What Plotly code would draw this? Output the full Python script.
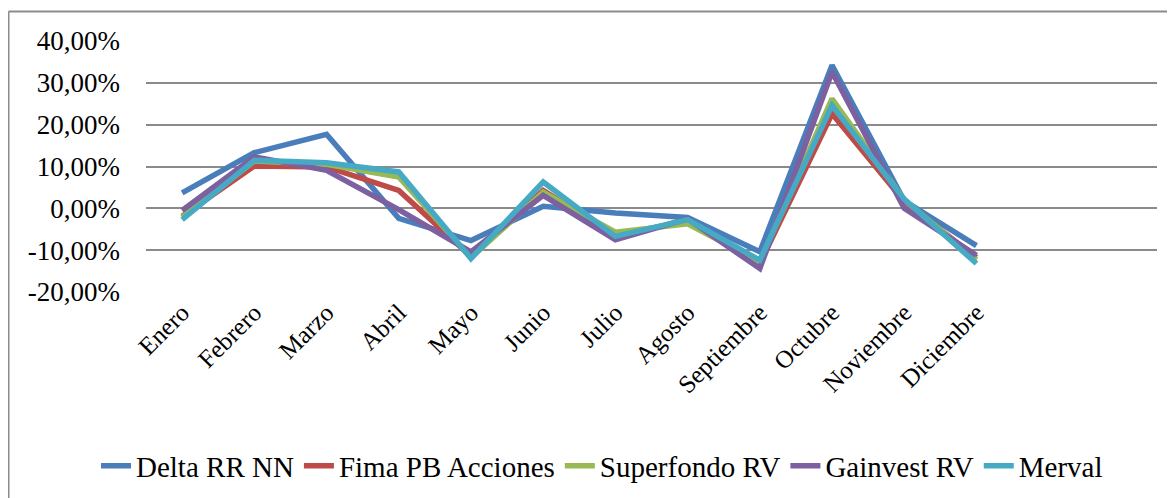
import plotly.graph_objects as go

months = ["Enero", "Febrero", "Marzo", "Abril", "Mayo", "Junio", "Julio",
          "Agosto", "Septiembre", "Octubre", "Noviembre", "Diciembre"]

delta_rr_nn = [3.7, 13.3, 17.7, -2.4, -7.7, 0.5, -1.1, -2.2, -10.4, 34.2, 1.8, -8.9]
fima_pb_acciones = [-1.9, 10.1, 9.9, 4.3, -11.5, 4.3, -6.5, -3.0, -13.2, 22.6, 1.6, -11.8]
superfondo_rv = [-2.1, 11.3, 10.5, 7.5, -11.8, 3.9, -5.7, -3.7, -12.8, 26.2, 2.0, -12.3]
gainvest_rv = [-0.5, 12.3, 9.1, -0.3, -10.4, 3.1, -7.5, -2.5, -14.4, 32.6, 0.0, -11.2]
merval = [-2.7, 11.5, 10.9, 8.7, -12.0, 6.3, -6.7, -2.7, -12.4, 24.6, 2.2, -13.2]

y_ticks = [-20, -10, 0, 10, 20, 30, 40]
y_tick_labels = [f"{v:.2f}%".replace(".", ",") for v in y_ticks]

series_names = ["Delta RR NN", "Fima PB Acciones", "Superfondo RV", "Gainvest RV", "Merval"]
series_values = [delta_rr_nn, fima_pb_acciones, superfondo_rv, gainvest_rv, merval]
colors = ["#4A7EBB", "#BE4B48", "#98B954", "#7D60A0", "#46AAC5"]

FONT = "Liberation Serif"

fig = go.Figure()
for name, vals, col in zip(series_names, series_values, colors):
    fig.add_trace(go.Scatter(
        x=months, y=vals, name=name, mode="lines",
        line=dict(color=col, width=5.5),
    ))

# the page body has an 8px margin; work in page pixels and convert
OFF = 8
W, H = 1175 - OFF, 498 - OFF
# plot area in page pixels: x 146..1157, y 41..292
L, R, T, B = 146 - OFF, 1157 - OFF, 41 - OFF, 292 - OFF
pw, ph = R - L, B - T

def px_x(p):
    return (p - OFF - L) / pw

def px_y(p):
    return (B - (p - OFF)) / ph

fig.update_layout(
    width=W, height=H,
    margin=dict(l=L, r=W - R, t=T, b=H - B, pad=0, autoexpand=False),
    paper_bgcolor="white", plot_bgcolor="white",
    font=dict(family=FONT, color="black", size=25),
    showlegend=True,
    legend=dict(
        orientation="h", x=px_x(602), xanchor="center",
        y=px_y(466), yanchor="middle",
        font=dict(family=FONT, size=29, color="black"),
        itemwidth=30, tracegroupgap=0,
    ),
    xaxis=dict(
        type="category", range=[-0.5, 13.5],
        showgrid=False, showline=False, zeroline=False,
        ticks="", tickangle=-45, automargin=False,
        tickfont=dict(family=FONT, size=25, color="black"),
    ),
    yaxis=dict(
        range=[-20, 40], tickmode="array",
        tickvals=y_ticks, ticktext=y_tick_labels,
        showgrid=True, gridcolor="#8A8A8A", gridwidth=2,
        zeroline=False, showline=False, ticks="", automargin=False,
        ticklabelstandoff=25,
        tickfont=dict(family=FONT, size=27, color="black"),
    ),
    shapes=[
        dict(type="line", xref="paper", yref="paper",
             x0=px_x(8.5), x1=px_x(8.5), y0=px_y(11.5), y1=px_y(520),
             line=dict(color="#8C8C8C", width=2)),
        dict(type="line", xref="paper", yref="paper",
             x0=px_x(8.5), x1=px_x(1200), y0=px_y(11.5), y1=px_y(11.5),
             line=dict(color="#8C8C8C", width=2)),
    ],
)

fig.write_html("out.html")
